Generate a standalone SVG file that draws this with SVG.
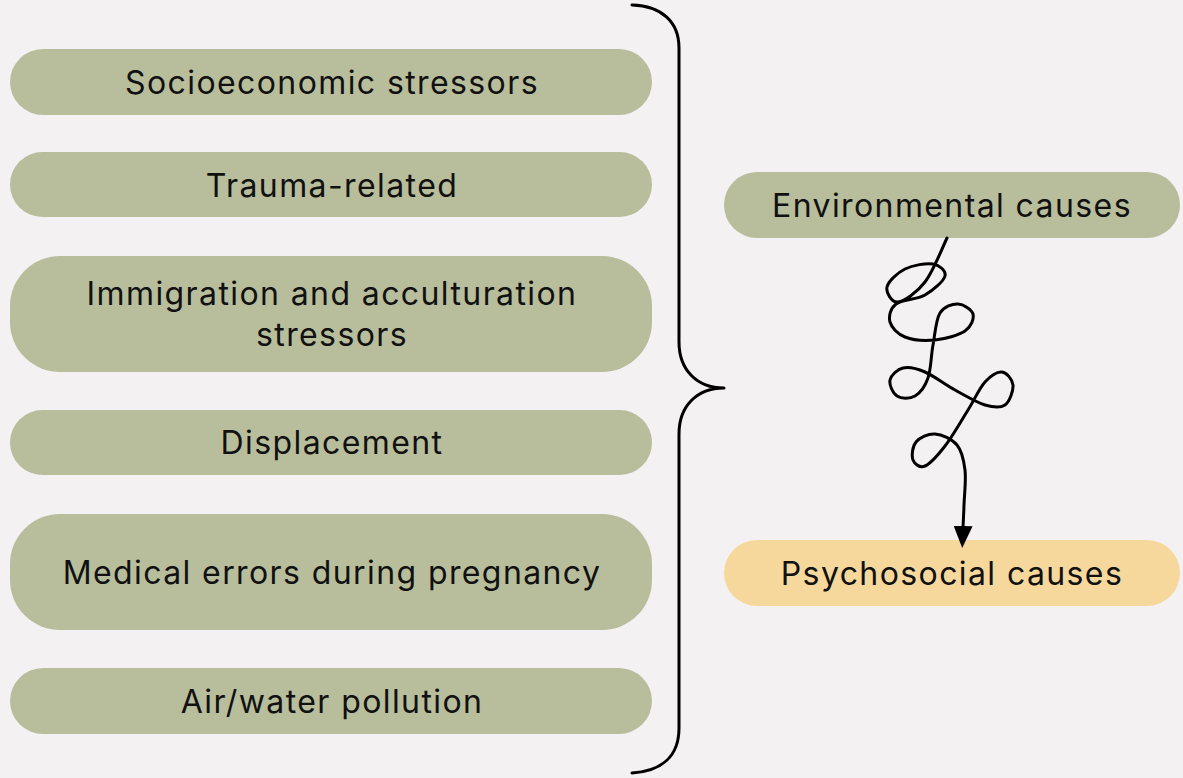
<svg xmlns="http://www.w3.org/2000/svg" width="1183" height="778" viewBox="0 0 1183 778">
<style>
.bg{fill:#f3f1f2}
.g{fill:#b8bd9c}
.y{fill:#f6d89c}
.t{font-family:Inter,"Liberation Sans",sans-serif;font-size:32px;letter-spacing:1.4px;fill:#111;text-anchor:middle}
.ln{fill:none;stroke:#000;stroke-width:3;stroke-linecap:round;stroke-linejoin:round}
</style>
<defs>
<marker id="ah" markerUnits="userSpaceOnUse" viewBox="0 0 22 19" refX="2" refY="9.5" markerWidth="22" markerHeight="19" orient="auto">
<path d="M0,0 L22,9.5 L0,19 z" fill="#000"/>
</marker>
</defs>
<rect class="bg" x="0" y="0" width="1183" height="778"/>
<g id="n1"><rect class="g" x="10" y="49" width="642" height="66" rx="33"/><text class="t" x="332" y="94">Socioeconomic stressors</text></g>
<g id="n2"><rect class="g" x="10" y="152" width="642" height="65" rx="32.5"/><text class="t" x="332" y="197">Trauma-related</text></g>
<g id="n3"><rect class="g" x="10" y="256" width="642" height="116" rx="50"/><text class="t" x="332" y="305">Immigration and acculturation</text><text class="t" x="332" y="346">stressors</text></g>
<g id="n4"><rect class="g" x="10" y="410" width="642" height="65" rx="32.5"/><text class="t" x="332" y="454">Displacement</text></g>
<g id="n5"><rect class="g" x="10" y="514" width="642" height="116" rx="50"/><text class="t" x="332" y="584">Medical errors during pregnancy</text></g>
<g id="n6"><rect class="g" x="10" y="668" width="642" height="66" rx="33"/><text class="t" x="332" y="713">Air/water pollution</text></g>
<g id="n7"><rect class="g" x="724" y="172" width="456" height="66" rx="33"/><text class="t" x="952" y="217">Environmental causes</text></g>
<g id="n8"><rect class="y" x="724" y="540" width="456" height="66" rx="33"/><text class="t" x="952" y="585">Psychosocial causes</text></g>
<g id="connectors">
<path class="ln" d="M632,5 C662,6 679,22 679,48 L679,342 C679,370 697,388 724,388 C697,388 679,406 679,434 L679,728 C679,756 662,771 632,773"/>
<path class="ln" marker-end="url(#ah)" d="M947,238 C940,253 933.2,271.3 925,282 C916.8,292.7 904.3,301.2 898,302 C891.7,302.8 885.8,292.5 887,287 C888.2,281.5 897.3,272.8 905,269 C912.7,265.2 926.3,262.8 933,264 C939.7,265.2 946.3,270.8 945,276 C943.7,281.2 933.2,290.3 925,295 C916.8,299.7 901.8,299.5 896,304 C890.2,308.5 888.5,316.5 890,322 C891.5,327.5 897.5,334 905,337 C912.5,340 925,341 935,340 C945,339 958.7,335.3 965,331 C971.3,326.7 974.2,318.5 973,314 C971.8,309.5 963.5,304.2 958,304 C952.5,303.8 944.2,306.2 940,313 C935.8,319.8 935,334.2 933,345 C931,355.8 931,369.5 928,378 C925,386.5 920.2,393 915,396 C909.8,399 901.2,398.7 897,396 C892.8,393.3 889,384.7 890,380 C891,375.3 897.2,369.3 903,368 C908.8,366.7 916.3,368.3 925,372 C933.7,375.7 945,384.5 955,390 C965,395.5 976.7,402.5 985,405 C993.3,407.5 1000.3,408.3 1005,405 C1009.7,401.7 1013.5,390.5 1013,385 C1012.5,379.5 1006.7,372.5 1002,372 C997.3,371.5 990.7,375.7 985,382 C979.3,388.3 974.7,399.3 968,410 C961.3,420.7 952.2,436.7 945,446 C937.8,455.3 930.3,463.7 925,466 C919.7,468.3 914.5,464 913,460 C911.5,456 912.3,446.3 916,442 C919.7,437.7 928.2,433.5 935,434 C941.8,434.5 952,439 957,445 C962,451 963.8,460 965,470 C966.2,480 964.3,495.3 964,505 C963.7,514.7 963.3,520.3 963,528"/>
</g>
</svg>
